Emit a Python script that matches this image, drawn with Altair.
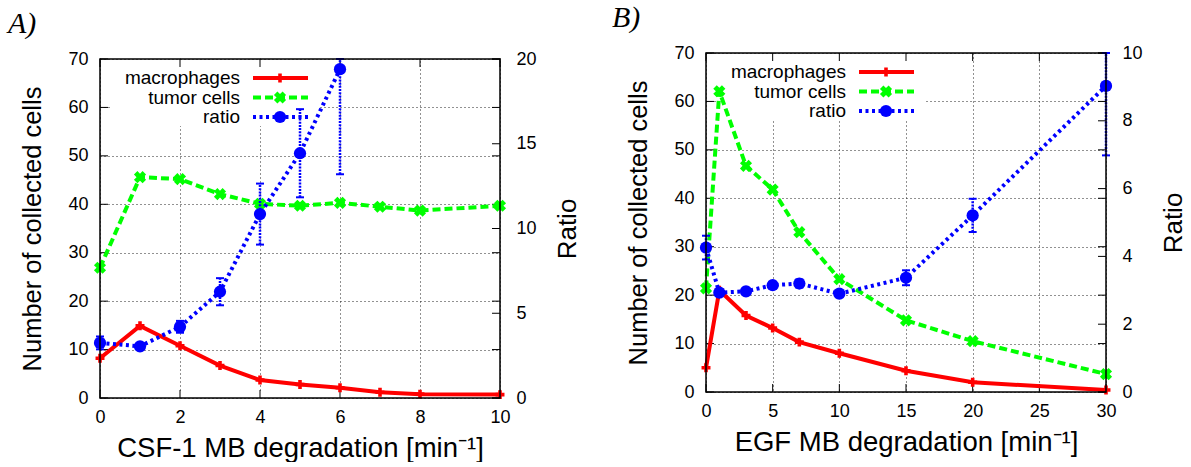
import altair as alt
import pandas as pd

# ---- panel A: CSF-1 MB degradation ----
csf_x = [0, 1, 2, 3, 4, 5, 6, 7, 8, 10]
csf_macro = [8.2, 14.9, 10.8, 6.7, 3.7, 2.8, 2.1, 1.2, 0.8, 0.7]
csf_tumor = [26.9, 45.6, 45.2, 42.1, 40.1, 39.7, 40.3, 39.5, 38.7, 39.7]
csf_ratio_x = [0, 1, 2, 3, 4, 5, 6]
csf_ratio = [3.25, 3.05, 4.2, 6.27, 10.85, 14.44, 19.4]
csf_ratio_err = [0.38, 0.15, 0.35, 0.8, 1.8, 2.6, 6.2]

# ---- panel B: EGF MB degradation ----
egf_x = [0, 1, 3, 5, 7, 10, 15, 20, 30]
egf_macro = [5.0, 21.0, 15.8, 13.2, 10.3, 8.0, 4.4, 2.0, 0.4]
egf_tumor = [21.4, 62.1, 46.7, 41.8, 33.0, 23.3, 14.8, 10.5, 3.7]
egf_ratio = [4.26, 2.93, 2.97, 3.15, 3.2, 2.9, 3.37, 5.21, 9.03]
egf_ratio_err = [0.35, 0.08, 0.1, 0.1, 0.12, 0.1, 0.22, 0.49, 2.05]

series_names = ["macrophages", "tumor cells", "ratio"]
RED, GREEN, BLUE = "#ff0000", "#00ff00", "#0000ff"

W, H = 400, 339
SANS = "Liberation Sans"
GRID = dict(grid=True, gridDash=[1, 3], gridColor="#222222", gridWidth=1)


def panel(letter, xs, macro, tumor, rx, ratio, rerr, xmax, xstep, rmax, rstep,
          xtitle, top, title_dx):
    """One panel; `top` leaves an empty strip above the plot frame."""
    cells = pd.DataFrame({"x": xs, "macro": macro, "tumor": tumor})
    rat = pd.DataFrame({"x": rx, "ratio": ratio, "err": rerr})
    rat["lo"] = rat["ratio"] - rat["err"]
    rat["hi"] = (rat["ratio"] + rat["err"]).clip(upper=rmax)

    B = H + top  # y pixel of the bottom frame edge
    xs_scale = alt.Scale(domain=[0, xmax], nice=False, zero=False)
    ys_scale = alt.Scale(domain=[0, 70], nice=False, range=[B, top])
    rs_scale = alt.Scale(domain=[0, rmax], nice=False, range=[B, top])

    x_axis = alt.Axis(values=list(range(0, xmax + 1, xstep)), labelFontSize=18,
                      labelPadding=10, labelFlush=False, ticks=False, domain=False,
                      title=xtitle, titleFontSize=27.5, titleFontWeight="normal",
                      titlePadding=8, labelColor="black", titleColor="black", **GRID)
    y_axis = alt.Axis(values=list(range(0, 71, 10)), labelFontSize=18, labelPadding=12,
                      ticks=False, domain=False, title="Number of collected cells",
                      titleFontSize=25.5, titleFontWeight="normal", titleAngle=270,
                      titleAlign="center", titleBaseline="bottom", titlePadding=22,
                      labelColor="black", titleColor="black", **GRID)
    r_axis = alt.Axis(orient="right", values=list(range(0, rmax + 1, rstep)),
                      labelFontSize=18, labelPadding=16, ticks=False, domain=False,
                      grid=False, title="Ratio", titleFontSize=26,
                      titleFontWeight="normal", titleAngle=270, titleAlign="center",
                      titleBaseline="top", titlePadding=18,
                      labelColor="black", titleColor="black")

    def X(field="x"):
        return alt.X(f"{field}:Q", scale=xs_scale, axis=x_axis)

    def Y(field):
        return alt.Y(f"{field}:Q", scale=ys_scale, axis=y_axis)

    def R(field):
        return alt.Y(f"{field}:Q", scale=rs_scale, axis=r_axis)

    one = pd.DataFrame({"k": [0]})

    # white strip above the frame and white key box hiding the grid
    mask = alt.Chart(one).mark_rect(color="white").encode(
        x=alt.value(-2), x2=alt.value(W + 2), y=alt.value(-1), y2=alt.value(top - 0.8))
    keybox = alt.Chart(one).mark_rect(color="white").encode(
        x=alt.value(10), x2=alt.value(219), y=alt.value(top + 1), y2=alt.value(top + 67))

    macro_line = alt.Chart(cells).mark_line(color=RED, strokeWidth=4).encode(
        x=X(), y=Y("macro"))
    macro_pts = alt.Chart(cells).mark_point(shape="cross", filled=True, color=RED,
                                            size=80, opacity=1).encode(
        x=X(), y=Y("macro"))
    tumor_line = alt.Chart(cells).mark_line(color=GREEN, strokeWidth=4,
                                            strokeDash=[8, 4]).encode(
        x=X(), y=Y("tumor"))
    tumor_pts = alt.Chart(cells).mark_point(shape="cross", angle=45, filled=True,
                                            color=GREEN, size=150, opacity=1).encode(
        x=X(), y=Y("tumor"))

    # inward tick marks on all four sides
    xt = pd.DataFrame({"x": list(range(0, xmax + 1, xstep))})
    yt = pd.DataFrame({"v": list(range(0, 71, 10))})
    rt = pd.DataFrame({"r": list(range(0, rmax + 1, rstep))})
    tick_kw = dict(color="black", strokeWidth=1)
    xticks = (alt.Chart(xt).mark_rule(**tick_kw).encode(x=X(), y=alt.value(B), y2=alt.value(B - 8))
              + alt.Chart(xt).mark_rule(**tick_kw).encode(x=X(), y=alt.value(top), y2=alt.value(top + 8)))
    yticks = (alt.Chart(yt).mark_rule(**tick_kw).encode(y=Y("v"), x=alt.value(0), x2=alt.value(8))
              + alt.Chart(yt).mark_rule(**tick_kw).encode(y=Y("v"), x=alt.value(W - 8), x2=alt.value(W)))

    cells_layer = alt.layer(mask, keybox, xticks, yticks, macro_line, macro_pts,
                            tumor_line, tumor_pts)

    rticks = alt.Chart(rt).mark_rule(**tick_kw).encode(y=R("r"), x=alt.value(W - 8), x2=alt.value(W))
    err = alt.Chart(rat).mark_rule(color=BLUE, strokeWidth=2.5, strokeDash=[2, 1.2]).encode(
        x=X(), y=R("lo"), y2="hi:Q")
    cap_lo = alt.Chart(rat).mark_tick(orient="horizontal", color=BLUE, size=8,
                                      thickness=2, opacity=1).encode(x=X(), y=R("lo"))
    cap_hi = alt.Chart(rat).mark_tick(orient="horizontal", color=BLUE, size=8,
                                      thickness=2, opacity=1).encode(x=X(), y=R("hi"))
    ratio_line = alt.Chart(rat).mark_line(color=BLUE, strokeWidth=4,
                                          strokeDash=[3, 3.5]).encode(x=X(), y=R("ratio"))
    ratio_pts = alt.Chart(rat).mark_point(shape="circle", filled=True, color=BLUE,
                                          size=150, opacity=1).encode(x=X(), y=R("ratio"))
    ratio_layer = alt.layer(rticks, err, cap_lo, cap_hi, ratio_line, ratio_pts)

    # key: labels on the left, line samples with a marker on the right
    key = pd.DataFrame({"name": series_names, "row": [19, 38.5, 58]})
    key_layers = []
    for name, col, dash, shape, size, ang in [
            (series_names[0], RED, [1, 0], "cross", 80, 0),
            (series_names[1], GREEN, [8, 4], "cross", 150, 45),
            (series_names[2], BLUE, [3, 3.5], "circle", 150, 0)]:
        row = key[key["name"] == name]
        yv = alt.value(top + float(row["row"].iloc[0]))
        key_layers.append(alt.Chart(row).mark_text(
            align="right", baseline="middle", fontSize=19, font=SANS, color="black"
        ).encode(text="name:N", x=alt.value(140), y=yv))
        key_layers.append(alt.Chart(row).mark_rule(
            color=col, strokeWidth=4, strokeDash=dash).encode(
            x=alt.value(153), x2=alt.value(208), y=yv))
        key_layers.append(alt.Chart(row).mark_point(
            shape=shape, angle=ang, filled=True, color=col, size=size, opacity=1
        ).encode(x=alt.value(180), y=yv))

    frame = alt.Chart(one).mark_rect(fill=None, stroke="black", strokeWidth=1.5).encode(
        x=alt.value(0), x2=alt.value(W), y=alt.value(top), y2=alt.value(B))

    return alt.layer(cells_layer, ratio_layer, *key_layers, frame).resolve_scale(
        y="independent").properties(
        width=W, height=B,
        title=alt.TitleParams(letter, font="Liberation Serif", fontStyle="italic",
                              fontSize=30, fontWeight="normal", anchor="start",
                              frame="group", offset=11, dx=title_dx,
                              color="black"))


left = panel("A)", csf_x, csf_macro, csf_tumor, csf_ratio_x, csf_ratio, csf_ratio_err,
             10, 2, 20, 5, "CSF-1 MB degradation [min\u207b\u00b9]", 6, -92)
right = panel("B)", egf_x, egf_macro, egf_tumor, egf_x, egf_ratio, egf_ratio_err,
              30, 5, 10, 2, "EGF MB degradation [min\u207b\u00b9]", 0, -94)

chart = alt.hconcat(left, right, spacing=30).properties(
    padding={"left": 7, "top": 2, "right": 0, "bottom": 0},
    background="white",
).configure_view(stroke=None).configure(font=SANS)

chart.save("out.html", embed_options={"renderer": "svg", "actions": False})
